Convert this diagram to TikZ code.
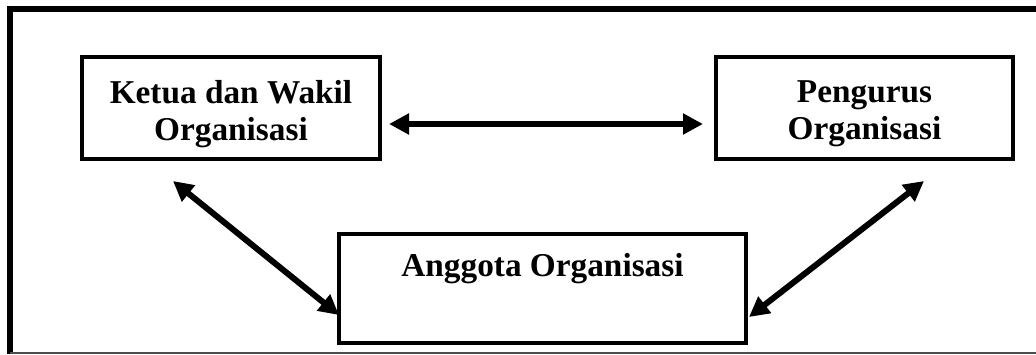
\documentclass[tikz,border=0pt]{standalone}
\usepackage{fontspec}
\setmainfont{Liberation Serif}
\usetikzlibrary{arrows.meta}
\begin{document}
\begin{tikzpicture}[x=1pt,y=-1pt,
  box/.style={draw,line width=4.2pt,inner sep=0pt},
  lbl/.style={font=\bfseries\fontsize{33.3}{37}\selectfont,align=center},
  link/.style={line width=6pt,{Triangle[length=20pt,width=20pt]}-{Triangle[length=20pt,width=20pt]}}]
\useasboundingbox (0,0) rectangle (1036,354);
% frame
\draw[line width=6pt] (1036,9) -- (10,9) -- (10,354);
\draw[black!70,line width=2.5pt] (10,353) -- (1036,353);
% boxes
\node[box,minimum width=298pt,minimum height=102pt] (k) at (231,108) {};
\node[lbl] (kt) at (231,114) {Ketua dan Wakil\\Organisasi};
\node[box,minimum width=297pt,minimum height=102pt] (p) at (864.5,108) {};
\node[lbl] (pt) at (864.5,114) {Pengurus\\Organisasi};
\node[box,minimum width=407pt,minimum height=109pt] (a) at (542.5,288.5) {};
\node[lbl] (at) at (542.5,269) {Anggota Organisasi};
% connector ends
\coordinate (k1) at (389,124);
\coordinate (p1) at (703,124);
\coordinate (k2) at (173,181);
\coordinate (a1) at (339,315);
\coordinate (p2) at (924,181);
\coordinate (a2) at (749,317);
\draw[link] (k1) -- (p1);
\draw[link] (k2) -- (a1);
\draw[link] (p2) -- (a2);
\end{tikzpicture}
\end{document}
